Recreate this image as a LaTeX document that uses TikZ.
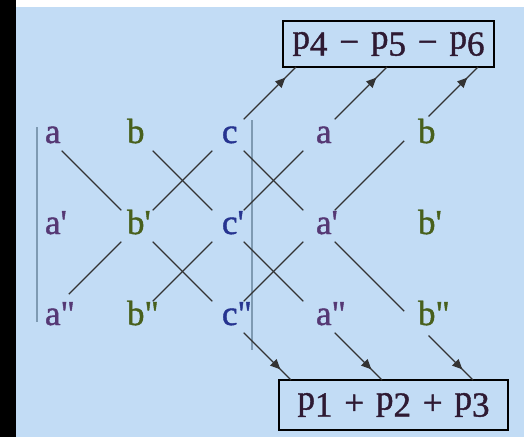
\documentclass[tikz,border=0pt]{standalone}
\usepackage{fontspec}
\setmainfont{Liberation Serif}[FakeBold=1.2]
\usetikzlibrary{arrows.meta,decorations.markings}

\definecolor{bg}{HTML}{C2DCF5}
\definecolor{rulec}{HTML}{7E9AB2}
\definecolor{acol}{HTML}{553874}
\definecolor{bcol}{HTML}{48601C}
\definecolor{ccol}{HTML}{263490}
\definecolor{pcol}{HTML}{2E1A33}

% letter (plus primes) with its left edge shifted from the node centre
\newcommand\cell[3]{\makebox[0pt][l]{\hspace*{#1}#2#3}}
\newcommand\sg{\textquotesingle}
\newcommand\db{\textquotedbl}
\newcommand\pp[1]{p\raisebox{-0.2em}{#1}}
\newcommand\op[1]{\hspace{0.34em}\raisebox{-0.14em}{#1}\hspace{0.34em}}

\begin{document}
\begin{tikzpicture}[x=1pt,y=-1pt,
  every node/.style={font=\fontsize{35}{40}\selectfont},
  entry/.style={circle,minimum size=44pt,inner sep=0pt,text height=16pt,text depth=0pt},
  link/.style={line width=1.1pt,draw=black!80},
  tolink/.style={link,postaction={decorate},
    decoration={markings,mark=at position -15pt with {\arrow{Triangle[length=10pt,width=9pt]}}}},
  sumbox/.style={draw=black,line width=1.6pt,inner sep=0pt,text=pcol},
  divider/.style={draw=rulec,line width=1.2pt}]

% frame
\useasboundingbox (0,0) rectangle (524,437);
\fill[black] (0,0) rectangle (16,437);
\fill[white] (16,0) rectangle (524,7);
\fill[bg] (16,7) rectangle (524,437);

% determinant bars
\draw[divider] (37,127) -- (37,322);
\draw[divider] (252,120) -- (252,350);

% entries
\node[entry,text=acol] (a1) at (46,135) {\cell{-1pt}{a}{}};
\node[entry,text=acol] (a2) at (46,226) {\cell{-1pt}{a}{\sg}};
\node[entry,text=acol] (a3) at (46,317) {\cell{-1pt}{a}{\db}};
\node[entry,text=bcol] (b1) at (137,135) {\cell{-10pt}{b}{}};
\node[entry,text=bcol] (b2) at (137,226) {\cell{-10pt}{b}{\sg}};
\node[entry,text=bcol] (b3) at (137,317) {\cell{-10pt}{b}{\db}};
\node[entry,text=ccol] (c1) at (228,135) {\cell{-6pt}{c}{}};
\node[entry,text=ccol] (c2) at (228,226) {\cell{-6pt}{c}{\sg}};
\node[entry,text=ccol] (c3) at (228,317) {\cell{-6pt}{c}{\db}};
\node[entry,text=acol] (d1) at (319,135) {\cell{-3pt}{a}{}};
\node[entry,text=acol] (d2) at (319,226) {\cell{-3pt}{a}{\sg}};
\node[entry,text=acol] (d3) at (319,317) {\cell{-3pt}{a}{\db}};
\node[entry,text=bcol] (e1) at (410,135) {\cell{8pt}{b}{}};
\node[entry,text=bcol] (e2) at (410,226) {\cell{8pt}{b}{\sg}};
\node[entry,text=bcol] (e3) at (410,317) {\cell{8pt}{b}{\db}};

% sums
\node[sumbox,minimum width=211pt,minimum height=46pt] (top) at (388.5,44)
  {\pp4\op{−}\pp5\op{−}\pp6};
\node[sumbox,minimum width=229pt,minimum height=50pt] (bot) at (393.5,405)
  {\pp1\op{+}\pp2\op{+}\pp3};

\coordinate (t1) at (296,67);
\coordinate (t2) at (387,67);
\coordinate (t3) at (478,67);
\coordinate (q1) at (291,380);
\coordinate (q2) at (382,380);
\coordinate (q3) at (473,380);

% diagonals going down to the right
\draw[link] (a1) -- (b2);
\draw[link] (b2) -- (c3);
\draw[tolink] (c3) -- (q1);
\draw[link] (b1) -- (c2);
\draw[link] (c2) -- (d3);
\draw[tolink] (d3) -- (q2);
\draw[link] (c1) -- (d2);
\draw[link,shorten >=-14pt] (d2) -- (e3);
\draw[tolink,shorten <=4pt] (e3) -- (q3);

% diagonals going up to the right
\draw[link,shorten <=10pt] (a3) -- (b2);
\draw[link] (b2) -- (c1);
\draw[tolink] (c1) -- (t1);
\draw[link] (b3) -- (c2);
\draw[link] (c2) -- (d1);
\draw[tolink] (d1) -- (t2);
\draw[link] (c3) -- (d2);
\draw[link,shorten >=-14pt] (d2) -- (e1);
\draw[tolink,shorten <=4pt] (e1) -- (t3);
\end{tikzpicture}
\end{document}
